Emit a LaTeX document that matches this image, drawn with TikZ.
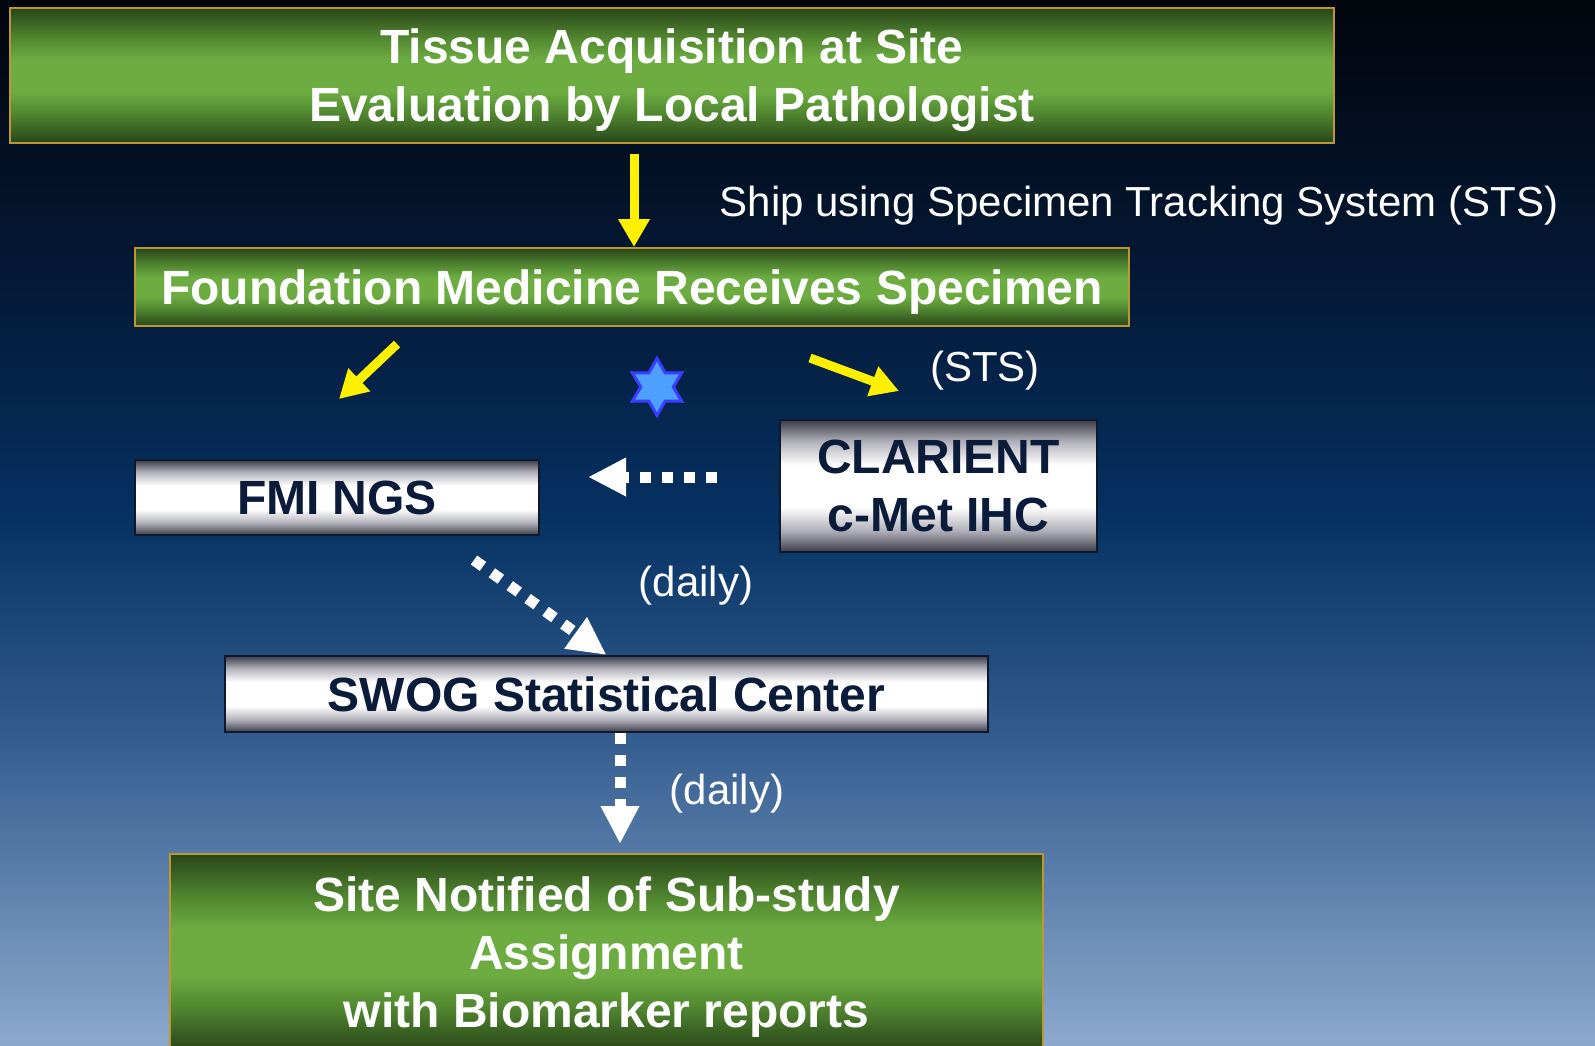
\documentclass[tikz,border=0pt]{standalone}
\usepackage{fontspec}
\setmainfont{Liberation Sans}
\usetikzlibrary{arrows.meta,shapes.geometric}

\definecolor{skytop}{RGB}{2,5,12}
\definecolor{skyone}{RGB}{3,12,28}
\definecolor{skytwo}{RGB}{4,28,60}
\definecolor{skythree}{RGB}{6,50,100}
\definecolor{skyfour}{RGB}{50,92,142}
\definecolor{skybottom}{RGB}{140,168,205}
\definecolor{greendark}{RGB}{40,70,25}
\definecolor{greenmid}{RGB}{85,140,50}
\definecolor{greenbright}{RGB}{108,172,65}
\definecolor{silverdark}{RGB}{60,60,72}
\definecolor{silvermid}{RGB}{175,175,185}
\definecolor{boxgold}{RGB}{190,150,50}
\definecolor{boxnavy}{RGB}{15,25,45}
\definecolor{textnavy}{RGB}{10,28,58}
\definecolor{arrowyellow}{RGB}{255,240,0}
\definecolor{starfill}{RGB}{77,160,255}
\definecolor{starline}{RGB}{60,60,255}

\pgfdeclareverticalshading{nightsky}{100bp}{color(0bp)=(skybottom); color(25bp)=(skybottom);
  color(40bp)=(skyfour); color(50bp)=(skythree); color(60bp)=(skytwo); color(70bp)=(skyone);
  color(75bp)=(skytop); color(100bp)=(skytop)}
\pgfdeclareverticalshading{greenbar}{100bp}{color(0bp)=(greendark); color(25bp)=(greendark);
  color(37bp)=(greenmid); color(44bp)=(greenbright); color(56bp)=(greenbright); color(63bp)=(greenmid);
  color(75bp)=(greendark); color(100bp)=(greendark)}
\pgfdeclareverticalshading{silverbar}{100bp}{color(0bp)=(silverdark); color(25bp)=(silverdark);
  color(33bp)=(silvermid); color(42bp)=(white); color(58bp)=(white); color(67bp)=(silvermid);
  color(75bp)=(silverdark); color(100bp)=(silverdark)}

\newcommand{\greentext}[1]{\raisebox{0pt}[\dimexpr\height+11pt\relax][\depth]{\begin{tabular}{@{}c@{}}#1\end{tabular}}}

\begin{document}
\begin{tikzpicture}[x=1pt,y=-1pt]
            \tikzset{greenbox/.style={draw=boxgold, line width=2pt, shade, shading=greenbar, text=white,
                font=\fontsize{48}{58}\selectfont\bfseries, align=center, inner sep=0pt}}
            \tikzset{silverbox/.style={draw=boxnavy, line width=2pt, shade, shading=silverbar, text=textnavy,
                font=\fontsize{48}{58}\selectfont\bfseries, align=center, inner sep=0pt}}
            \tikzset{note/.style={text=white, font=\fontsize{42}{50}\selectfont}}
            \tikzset{shiparrow/.style={draw=arrowyellow, line width=9pt, -{Triangle[length=28pt,width=30pt]}}}
            \tikzset{dailyarrow/.style={draw=white, line width=11pt, dash pattern=on 11pt off 11pt,
                -{Triangle[length=38pt,width=36pt]}}}
            \shade[shading=nightsky] (0,0) rectangle (1595,1045);
            \useasboundingbox (0,0) rectangle (1595,1045);
            \node[greenbox, minimum width=1324pt, minimum height=135pt] (tissue) at (672,75.5)
                {\greentext{Tissue Acquisition at Site\\Evaluation by Local Pathologist}};
            \node[greenbox, minimum width=994pt, minimum height=78pt] (fmrecv) at (632,287)
                {\greentext{Foundation Medicine Receives Specimen}};
            \node[silverbox, minimum width=404pt, minimum height=75pt] (fmings) at (337,497.5) {FMI NGS};
            \node[silverbox, minimum width=317pt, minimum height=132pt] (clarient) at (938.5,486)
                {CLARIENT\\c-Met IHC};
            \node[silverbox, minimum width=763pt, minimum height=76pt] (swog) at (606.5,694)
                {SWOG Statistical Center};
            \node[greenbox, minimum width=873pt, minimum height=196pt] (sitenote) at (606.5,952)
                {\greentext{Site Notified of Sub-study\\Assignment\\with Biomarker reports}};
            \node[star, star points=6, star point ratio=1.75, minimum size=57pt, inner sep=0pt,
                fill=starfill, draw=starline, line width=3pt] (hexstar) at (657,387) {};
            \node[note] (shiplabel) at (1139,206) {Ship using Specimen Tracking System (STS)};
            \node[note] (stslabel) at (985,371) {(STS)};
            \node[note] (dailyone) at (696,586) {(daily)};
            \node[note] (dailytwo) at (727,794) {(daily)};
            \coordinate (shipx) at (634,0);
            \coordinate (ngsfrom) at (397,344);
            \coordinate (ngsto) at (339,399);
            \coordinate (ihcfrom) at (810,358);
            \coordinate (ihcto) at (899,391);
            \coordinate (ihcout) at (717,477);
            \coordinate (ngsin) at (588,477);
            \coordinate (ngsout) at (474,560);
            \coordinate (reportx) at (620,0);
            \draw[shiparrow, shorten <=10pt] (tissue.south -| shipx) -- (fmrecv.north -| shipx);
            \draw[shiparrow] (ngsfrom) -- (ngsto);
            \draw[shiparrow] (ihcfrom) -- (ihcto);
            \draw[dailyarrow] (ihcout) -- (ngsin);
            \draw[dailyarrow] (ngsout) -- (swog.north);
            \draw[dailyarrow, shorten >=9pt] (swog.south -| reportx) -- (sitenote.north -| reportx);
        \end{tikzpicture}
\end{document}
